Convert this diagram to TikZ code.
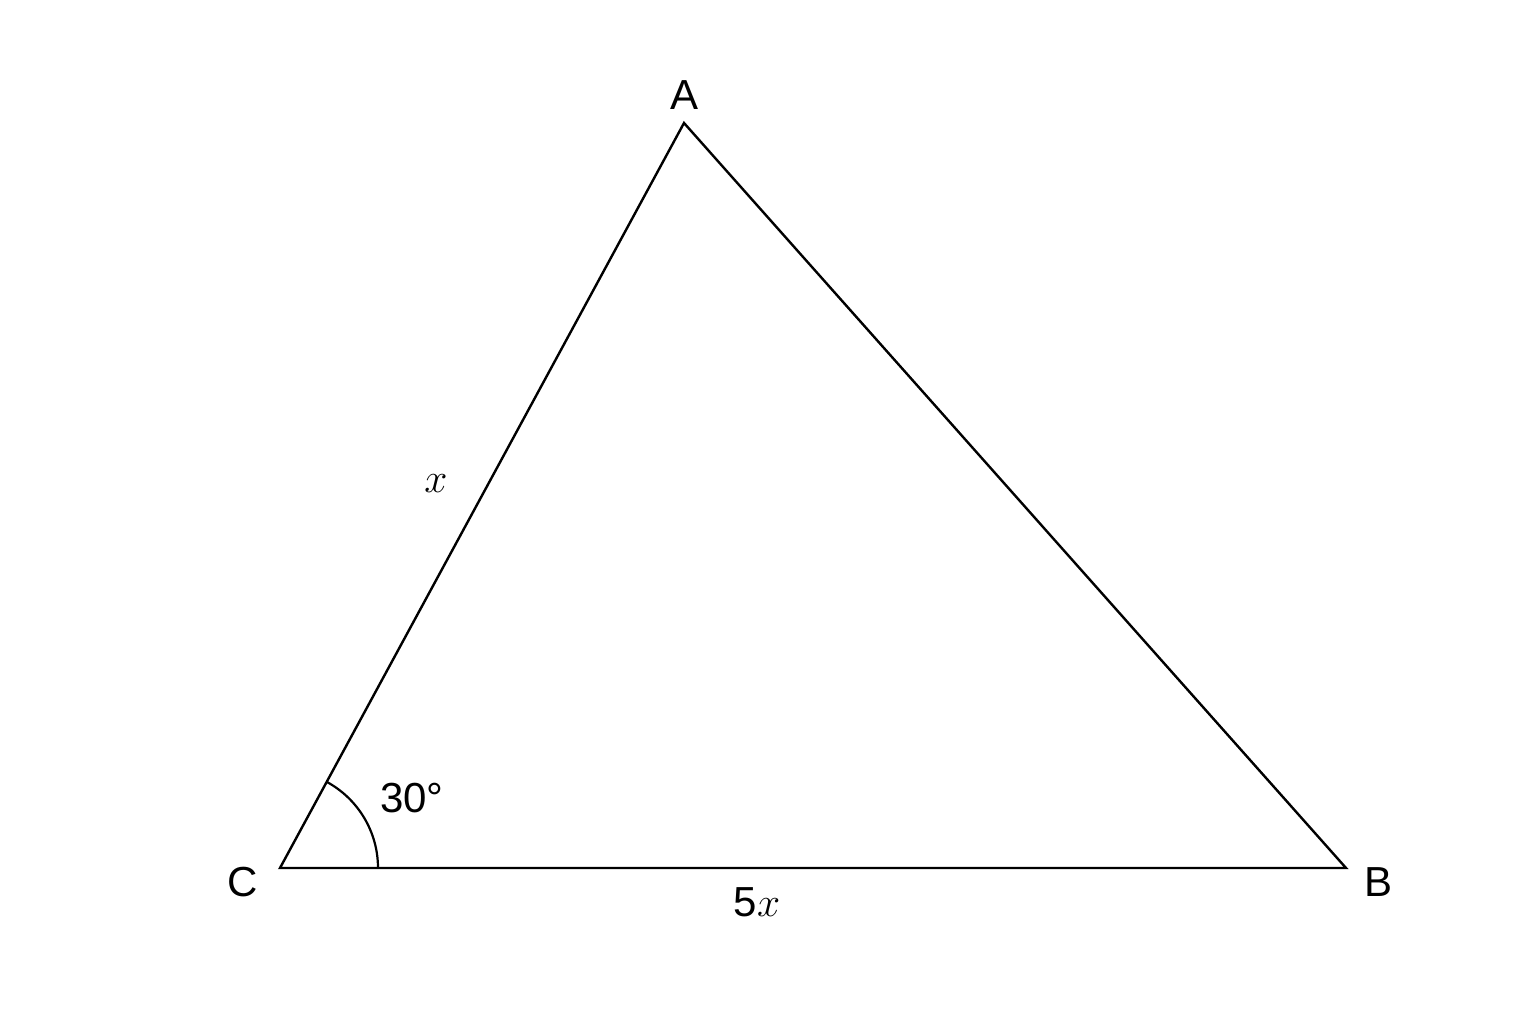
\documentclass[tikz,border=0pt]{standalone}
\usepackage{fontspec}
\setmainfont{Liberation Sans}
\usetikzlibrary{positioning,calc}
\begin{document}
\begin{tikzpicture}[x=0.5pt,y=0.5pt]
                    \tikzstyle{every node}=[inner sep=0,font=\fontsize{21}{25}\selectfont]
                    \tikzstyle{side}=[draw=black,line width=1.2pt,line join=miter]
                    \tikzstyle{note}=[draw=none,fill=none]
                    \useasboundingbox (0,0) rectangle (1536,1024);
                    {
                        \coordinate (c) at (280,156);
                        \coordinate (a) at (684,901);
                        \coordinate (b) at (1346,156);

                        \node[note] (labela) at (684,929) {A};
                        \node[note] (labelc) at (243,142) {C};
                        \node[note] (labelb) at (1378,142) {B};

                        \draw[side] (c) -- (a) -- (b) -- cycle;
                        \draw[line width=1.1pt] ($(c)+(98,0)$) arc[start angle=0,end angle=61.5,radius=98];

                        \node[note] (angc) at (412,226) {30°};
                        \node[note] (sideca) at (436,540) {$x$};
                        \node[note] (sidecb) at (757,122) {5$x$};
                    }
\end{tikzpicture}
\end{document}
